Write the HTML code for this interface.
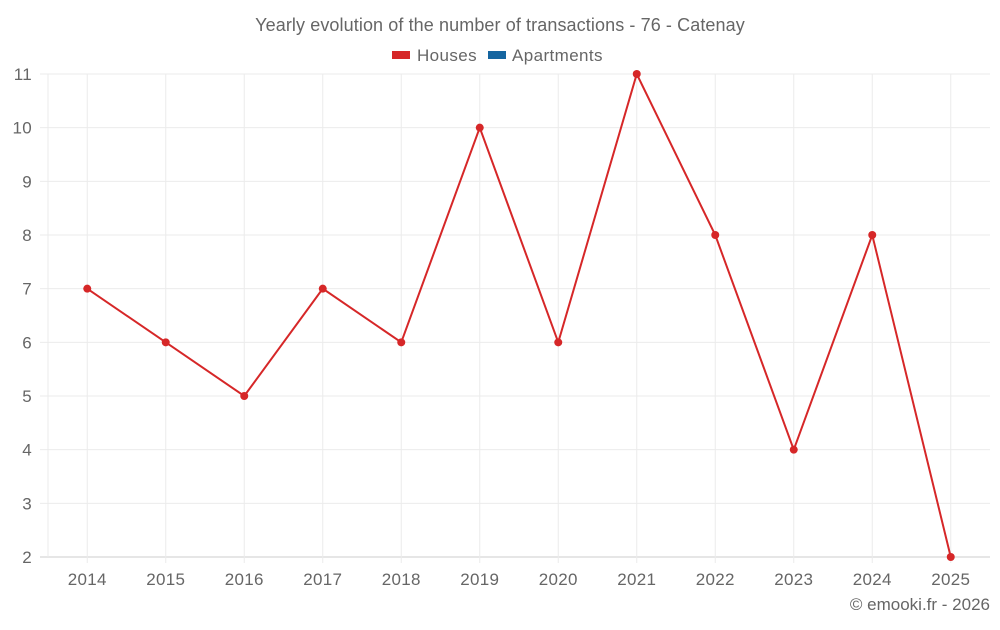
<!DOCTYPE html>
<html><head><meta charset="utf-8"><style>
body{margin:0;background:#fff;font-family:"Liberation Sans",sans-serif}
text{font-family:"Liberation Sans",sans-serif}
</style></head><body>
<svg id="chart" width="1000" height="625" xmlns="http://www.w3.org/2000/svg">
<text x="500" y="31" text-anchor="middle" font-size="18" fill="#666" letter-spacing="0.1">Yearly evolution of the number of transactions - 76 - Catenay</text>
<g>
<g><rect x="392" y="51" width="18" height="8" fill="#d62728"/><text x="417" y="61" font-size="17" fill="#666" letter-spacing="0.4">Houses</text></g>
<g><rect x="488" y="51" width="18" height="8" fill="#1565a0"/><text x="512" y="61" font-size="17" fill="#666" letter-spacing="0.4">Apartments</text></g>
</g>
<g id="grid"></g>
<g id="axes"></g>
<g id="series"></g>
<text x="990" y="610" text-anchor="end" font-size="17" fill="#666">© emooki.fr - 2026</text>
</svg>
<script>
const categories=["2014","2015","2016","2017","2018","2019","2020","2021","2022","2023","2024","2025"];
const houses=[7,6,5,7,6,10,6,11,8,4,8,2];
const yTicks=[2,3,4,5,6,7,8,9,10,11];
const L=48,R=990,T=74,B=557,yMin=2,yMax=11;
const NS="http://www.w3.org/2000/svg";
const band=(R-L)/categories.length;
const x=i=>L+band*(i+0.5);
const y=v=>B-(v-yMin)/(yMax-yMin)*(B-T);
function mk(t,a,p){const e=document.createElementNS(NS,t);for(const k in a)e.setAttribute(k,a[k]);p.appendChild(e);return e;}
const g=document.getElementById('grid'),ax=document.getElementById('axes'),s=document.getElementById('series');
yTicks.forEach(v=>{
 const l=mk('line',{x1:40,x2:R,y1:y(v),y2:y(v),stroke:v===yMin?'#ccc':'#ebebeb'},g);
 
 
 const t=mk('text',{x:32,y:y(v)+6,'text-anchor':'end','font-size':17,fill:'#666','letter-spacing':0.3},ax);t.textContent=v;
 
 
});
mk('line',{x1:L,x2:L,y1:T,y2:B,stroke:'#ebebeb'},g);
categories.forEach((c,i)=>{
 const l=mk('line',{x1:x(i),x2:x(i),y1:T,y2:B+6,stroke:'#ebebeb'},g);
 
 
 const t=mk('text',{x:x(i),y:585,'text-anchor':'middle','font-size':17,fill:'#666','letter-spacing':0.3},ax);t.textContent=c;
 
 
});
const p=mk('polyline',{points:houses.map((v,i)=>x(i)+','+y(v)).join(' '),fill:'none',stroke:'#d62728','stroke-width':2},s);


houses.forEach((v,i)=>{
 const c=mk('circle',{cx:x(i),cy:y(v),r:4,fill:'#d62728'},s);
 
 
});
</script>
</body></html>
